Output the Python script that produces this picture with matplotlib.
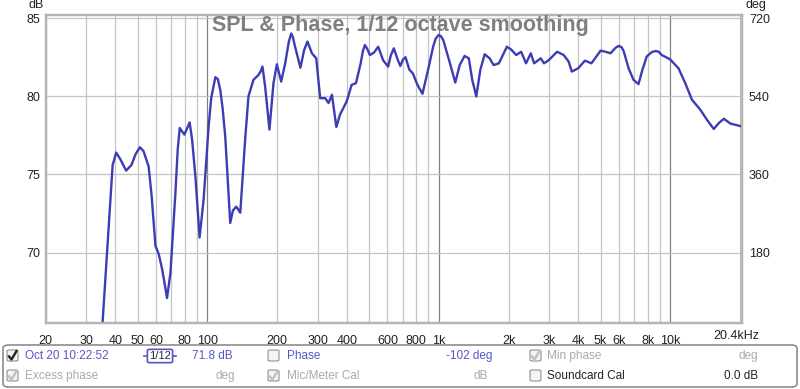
import matplotlib.pyplot as plt
from matplotlib.patches import FancyBboxPatch
from matplotlib.lines import Line2D

# SPL curve (Hz, dB)
freq = [35.2, 37.5, 39.0, 40.4, 42.0, 44.6, 47.0, 49.0, 51.1, 53.0, 55.8, 57.5,
        59.7, 61.7, 63.8, 67.0, 69.3, 72.8, 74.5, 76.0, 79.6, 81.5, 83.9, 86.0,
        88.8, 92.6, 96.4, 101.3, 104.0, 108.3, 111.0, 113.8, 116.5, 119.5,
        125.6, 129.0, 133.4, 138.8, 145.8, 150.6, 158.2, 166.4, 170.0, 173.1,
        177.8, 185.5, 193.1, 199.7, 208.5, 216.9, 225.0, 230.4, 234.0, 239.4,
        252.4, 262, 270.8, 283.1, 295.4, 307.3, 323, 333.9, 345.4, 360.9,
        374.1, 399.8, 420.1, 438.6, 459.6, 470.0, 479.6, 490.0, 503.9, 525.0,
        547.2, 575, 604, 620, 639, 666, 682, 700, 718, 746, 771, 809, 850, 902,
        945, 970, 998, 1020, 1045, 1108, 1178, 1231, 1292, 1348, 1394, 1452,
        1511, 1578, 1657, 1724, 1817, 1900, 1969, 2050, 2161, 2268, 2380,
        2497, 2580, 2755, 2846, 2989, 3242, 3463, 3636, 3755, 3879, 4006,
        4276, 4563, 4999, 5250, 5514, 5800, 5982, 6150, 6284, 6601, 6935,
        7286, 7576, 7907, 8300, 8650, 8900, 9181, 9969, 10840, 11600, 12400,
        13480, 14400, 15410, 16200, 17030, 18210, 19800, 20400]
spl = [65.3, 71.7, 75.6, 76.4, 76.0, 75.25, 75.6, 76.3, 76.74, 76.5, 75.5, 73.6,
       70.43, 69.9, 68.95, 67.1, 68.7, 73.8, 76.6, 77.97, 77.55, 77.9, 78.33, 77.2,
       74.9, 70.97, 73.4, 78.08, 79.9, 81.22, 81.1, 80.4, 79.2, 77.44,
       71.9, 72.7, 72.94, 72.56, 77.3, 80.0, 81.05, 81.37, 81.6, 81.9,
       80.6, 77.87, 80.84, 82.05, 80.94, 82.1, 83.5, 84.02, 83.8, 83.17,
       81.83, 82.96, 83.5, 82.75, 82.43, 79.88, 79.88, 79.57, 80.1, 78.04,
       78.82, 79.67, 80.73, 80.84, 82.1, 82.9, 83.28, 83.05, 82.64, 82.8,
       83.17, 82.3, 81.9, 82.6, 83.07, 82.3, 81.94, 82.35, 82.5, 81.7, 81.48, 80.73, 80.16, 81.8,
       83.17, 83.7, 83.92, 83.85, 83.6, 82.3, 80.88, 82.0, 82.58, 82.43, 81.05, 79.99,
       81.69, 82.69, 82.43, 82.0, 82.11, 82.7, 83.17, 83.0, 82.64, 82.85, 82.11,
       82.75, 82.11, 82.43, 82.11, 82.32, 82.85, 82.64, 82.22, 81.58, 81.69, 81.8,
       82.28, 82.11, 82.92, 82.85, 82.75, 83.1, 83.22, 83.15, 82.9, 81.8, 81.05,
       80.78, 81.69, 82.54, 82.82, 82.9, 82.85, 82.64, 82.37, 81.8, 80.84, 79.78,
       79.14, 78.5, 77.91, 78.29, 78.56, 78.25, 78.12, 78.05]

xticks = [20, 30, 40, 50, 60, 80, 100, 200, 300, 400, 600, 800, 1000,
          2000, 3000, 4000, 5000, 6000, 8000, 10000]
xlabels = ["20", "30", "40", "50", "60", "80", "100", "200", "300", "400", "600",
           "800", "1k", "2k", "3k", "4k", "5k", "6k", "8k", "10k"]
minor_grid = [20, 30, 40, 50, 60, 70, 80, 90, 200, 300, 400, 500, 600, 700,
              800, 900, 2000, 3000, 4000, 5000, 6000, 7000, 8000, 9000, 20000]
major_grid = [100, 1000, 10000]
yticks = [70, 75, 80, 85]
deg_ticks = [180, 360, 540, 720]

plt.rcParams['font.family'] = ['Liberation Sans', 'DejaVu Sans']

W, H = 800, 389
fig = plt.figure(figsize=(8, 3.89), dpi=100)
ax = fig.add_axes([45.5 / W, 1 - 323 / H, (742 - 45.5) / W, (323 - 15) / H])

ax.set_xscale('log')
ax.set_xlim(20, 20400)
ax.set_ylim(65.5, 85.2)

for f in minor_grid:
    ax.axvline(f, color='#c4c4c4', lw=0.9, zorder=1)
for f in major_grid:
    ax.axvline(f, color='#808080', lw=0.9, zorder=1)
for y in yticks:
    ax.axhline(y, color='#c4c4c4', lw=0.9, zorder=1)

ax.plot(freq, spl, color='#3c3cb4', lw=1.7, zorder=3, solid_joinstyle='round')

ax.set_xticks(xticks)
ax.set_xticklabels(xlabels)
ax.xaxis.set_minor_locator(plt.NullLocator())
ax.set_yticks(yticks)
ax.tick_params(axis='both', length=0, labelsize=9, colors='#222222')
ax.tick_params(axis='x', pad=9)
ax.tick_params(axis='y', pad=4)
fig.text(736.5 / W, 1 - 336 / H, "20.4kHz", ha='center', va='center',
         fontsize=9, color='#222222')

ax2 = ax.twinx()
ax2.set_ylim(36 * (65.5 - 65), 36 * (85.2 - 65))
ax2.set_yticks(deg_ticks)
ax2.tick_params(axis='y', length=0, labelsize=9, colors='#222222', pad=5)

for a in (ax, ax2):
    for s in a.spines.values():
        s.set_color('#b4b4b4')
        s.set_linewidth(1.6)

fig.text(28 / W, 1 - 5 / H, "dB", fontsize=9, va='center', ha='left', color='#222222')
fig.text(745 / W, 1 - 5 / H, "deg", fontsize=9, va='center', ha='left', color='#222222')

fig.text(400 / W, 1 - 25 / H, "SPL & Phase, 1/12 octave smoothing", fontsize=15.5,
         fontweight='bold', color='#7f7f7f', ha='center', va='center')

# bottom legend panel
panel = FancyBboxPatch((3 / W, 1 - 387 / H), 794 / W, 42 / H,
                       boxstyle="round,pad=0,rounding_size=0.008",
                       transform=fig.transFigure, fc='white', ec='#8c8c8c', lw=1.2)
fig.patches.append(panel)

blue = '#5656c8'
grey = '#aaaaaa'


def checkbox(x, y, checked, col):
    box = FancyBboxPatch((x / W, 1 - (y + 5) / H), 11 / W, 11 / H,
                         boxstyle="round,pad=0,rounding_size=0.003",
                         transform=fig.transFigure, fc='#f4f4f4', ec='#909090', lw=0.8)
    fig.patches.append(box)
    if checked:
        fig.lines.append(Line2D([(x + 2) / W, (x + 4.5) / W, (x + 9.5) / W],
                                [1 - (y + 0.5) / H, 1 - (y + 3.5) / H, 1 - (y - 5) / H],
                                transform=fig.transFigure, color=col, lw=1.7))


def label(x, y, s, col, ha='left'):
    fig.text(x / W, 1 - y / H, s, fontsize=8.5, color=col, ha=ha, va='center')


r1, r2 = 356, 376
checkbox(7, r1, True, '#222222')
label(25, r1, "Oct 20 10:22:52", blue)
fig.lines.append(Line2D([144 / W, 176 / W], [1 - r1 / H, 1 - r1 / H],
                        transform=fig.transFigure, color=blue, lw=1.2))
fig.text(160 / W, 1 - r1 / H, "1/12", fontsize=8, color='#222244', ha='center', va='center',
         bbox=dict(boxstyle='round,pad=0.15', fc='white', ec=blue, lw=1.2))
label(233, r1, "71.8 dB", blue, ha='right')
checkbox(268, r1, False, '#222222')
label(287, r1, "Phase", blue)
label(492, r1, "-102 deg", blue, ha='right')
checkbox(530, r1, True, '#c0c0c0')
label(547, r1, "Min phase", grey)
label(758, r1, "deg", grey, ha='right')

checkbox(7, r2, True, '#c0c0c0')
label(25, r2, "Excess phase", grey)
label(235, r2, "deg", grey, ha='right')
checkbox(268, r2, True, '#c0c0c0')
label(287, r2, "Mic/Meter Cal", grey)
label(488, r2, "dB", grey, ha='right')
checkbox(530, r2, False, '#222222')
label(547, r2, "Soundcard Cal", '#222222')
label(758, r2, "0.0 dB", '#222222', ha='right')

fig.savefig("out.png", dpi=100)
